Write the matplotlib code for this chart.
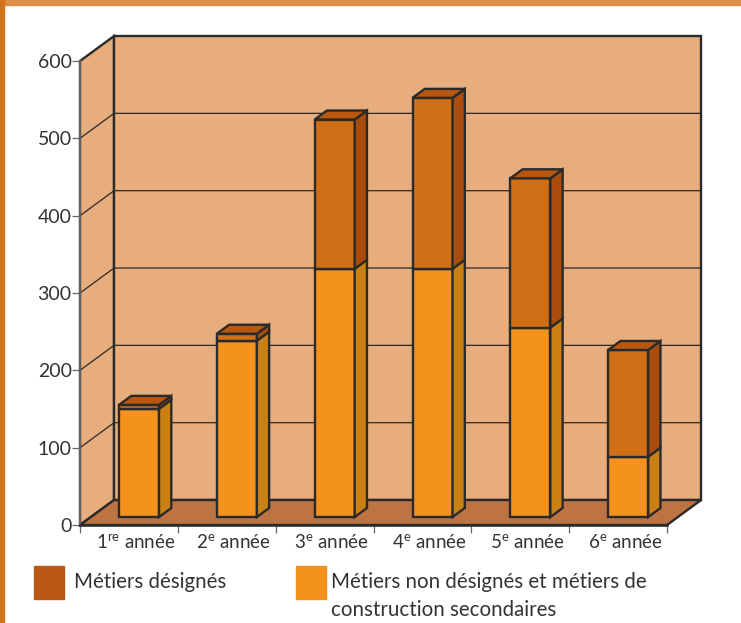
import numpy as np
import matplotlib.pyplot as plt
from matplotlib.patches import Polygon, Rectangle

plt.rcParams['font.family'] = ['Lato', 'DejaVu Sans']
plt.rcParams['mathtext.fontset'] = 'custom'
plt.rcParams['mathtext.rm'] = 'Lato'

categories = ['1$^{\\mathrm{re}}$ année', '2$^{\\mathrm{e}}$ année', '3$^{\\mathrm{e}}$ année',
              '4$^{\\mathrm{e}}$ année', '5$^{\\mathrm{e}}$ année', '6$^{\\mathrm{e}}$ année']
non_designes = [140, 228, 321, 321, 245, 78]
designes = [5, 9, 193, 221, 193, 138]
y_ticks = [0, 100, 200, 300, 400, 500, 600]
legend_labels = ['Métiers désignés', 'Métiers non désignés et métiers de', 'construction secondaires']

W, H = 741, 623
DARK = '#2a2a2a'
TEXT = '#333333'
# fake 3d depth of the box, in data units
DX, DY = 0.348, 32.3
# bars sit between these fractions of the depth
F1, F2 = 0.32, 0.68
BAR_W = 0.409

fig = plt.figure(figsize=(W / 100, H / 100), dpi=100)
fig.patches.append(Rectangle((0, 1 - 5 / H), 1, 5 / H, transform=fig.transFigure, color='#DD8D4A'))
fig.patches.append(Rectangle((0, 0), 4 / W, 1, transform=fig.transFigure, color='#D0751C'))

ax = fig.add_axes([80 / W, 1 - 525 / H, 587 / W, 464 / H])
ax.set_xlim(0, 6)
ax.set_ylim(0, 600)
ax.patch.set_visible(False)


def poly(pts, fc, lw=1.7, z=2, ec=DARK):
    ax.add_patch(Polygon(pts, closed=True, fc=fc, ec=ec, lw=lw, zorder=z, clip_on=False, joinstyle='miter'))


# walls and floor
poly([(0, 0), (DX, DY), (DX, 600 + DY), (0, 600)], '#E7AD7C', z=1)
poly([(DX, DY), (6 + DX, DY), (6 + DX, 600 + DY), (DX, 600 + DY)], '#E7AD7C', z=1)
poly([(0, 0), (6, 0), (6 + DX, DY), (DX, DY)], '#BD7342', z=1.5)

for v in y_ticks[1:-1]:
    ax.plot([0, DX, 6 + DX], [v, v + DY, v + DY], color=DARK, lw=0.9, zorder=1.2, clip_on=False)


def bar(x, bottom, height, front, side):
    dx = (F2 - F1) * DX
    dy = (F2 - F1) * DY
    top = bottom + height
    poly([(x, bottom), (x + BAR_W, bottom), (x + BAR_W, top), (x, top)], front, z=3)
    poly([(x + BAR_W, bottom), (x + BAR_W + dx, bottom + dy), (x + BAR_W + dx, top + dy), (x + BAR_W, top)], side, z=3)


y0 = F1 * DY
for i in range(len(categories)):
    x = i + 0.492 - BAR_W / 2 + F1 * DX
    bar(x, y0, non_designes[i], '#F5921E', '#CB8014')
    bar(x, y0 + non_designes[i], designes[i], '#D06F15', '#AA4D0C')
    t = y0 + non_designes[i] + designes[i]
    dx = (F2 - F1) * DX
    dy = (F2 - F1) * DY
    poly([(x, t), (x + BAR_W, t), (x + BAR_W + dx, t + dy), (x + dx, t + dy)], '#B9570F', z=3)

# axes
for s in ['top', 'right']:
    ax.spines[s].set_visible(False)
ax.spines['left'].set_color('#666666')
ax.spines['left'].set_linewidth(1.3)
ax.spines['bottom'].set_color(DARK)
ax.spines['bottom'].set_linewidth(1.8)
ax.spines['left'].set_zorder(1.6)
ax.spines['bottom'].set_zorder(1.6)
ax.set_yticks(y_ticks)
ax.set_xticks(np.arange(7))
ax.set_xticklabels([])
ax.set_xticks(np.arange(6) + 0.57, labels=categories, minor=True)
ax.tick_params(axis='x', which='major', length=6, color='#666666', width=0.9)
ax.tick_params(axis='x', which='minor', length=0, labelsize=13.5, labelcolor=TEXT, pad=6)
ax.tick_params(axis='y', length=6, color='#666666', width=0.9, labelsize=14, labelcolor=TEXT, pad=0)

# legend drawn by hand like in the original
fig.patches.append(Rectangle((34 / W, 1 - 599 / H), 30 / W, 33 / H, transform=fig.transFigure, color='#BA5813'))
fig.patches.append(Rectangle((296 / W, 1 - 599 / H), 30 / W, 33 / H, transform=fig.transFigure, color='#F5921E'))
fig.text(74 / W, 1 - 582 / H, legend_labels[0], fontsize=14.8, color=TEXT, va='center')
fig.text(331 / W, 1 - 582 / H, legend_labels[1], fontsize=14.8, color=TEXT, va='center')
fig.text(331 / W, 1 - 610 / H, legend_labels[2], fontsize=14.8, color=TEXT, va='center')

fig.savefig('out.png', dpi=100)
